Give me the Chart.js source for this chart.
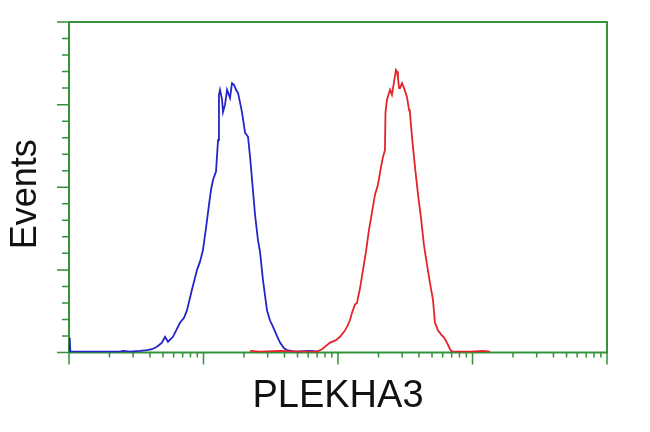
<!DOCTYPE html>
<html>
<head>
<meta charset="utf-8">
<title>PLEKHA3</title>
<script src="https://cdn.jsdelivr.net/npm/chart.js@4.4.1/dist/chart.umd.min.js"></script>
<style>
  html, body { margin: 0; padding: 0; background: #fff; }
  canvas { display: block; }
</style>
</head>
<body>
<canvas id="histChart" width="650" height="432"></canvas>
<script>
// x values are in decades of fluorescence (log10), y in relative events
const xTitle = 'PLEKHA3'
const yTitle = 'Events'

const controlX = [0, 0.005, 0.01, 0.379, 0.401, 0.454, 0.528, 0.58, 0.617, 0.654, 0.691, 0.714, 0.736, 0.773, 0.825,
  0.855, 0.877, 0.914, 0.952, 0.974, 0.996, 1.019, 1.041, 1.056, 1.071, 1.093, 1.108, 1.115, 1.123, 1.138, 1.145,
  1.16, 1.175, 1.197, 1.212, 1.227, 1.242, 1.257, 1.271, 1.286, 1.309, 1.331, 1.346, 1.361, 1.383, 1.405, 1.42,
  1.442, 1.472, 1.494, 1.517, 1.546, 1.569, 1.599, 1.621, 1.68, 1.792, 1.851]
const controlY = [0.01, 0.18, 0.01, 0.01, 0.02, 0.01, 0.02, 0.03, 0.04, 0.07, 0.12, 0.19, 0.13, 0.19, 0.36,
  0.42, 0.51, 0.76, 1.0, 1.1, 1.24, 1.51, 1.79, 1.97, 2.09, 2.19, 2.57, 3.12, 3.18, 3.06, 2.91,
  3.0, 3.18, 3.08, 3.26, 3.24, 3.18, 3.14, 3.03, 2.91, 2.66, 2.61, 2.37, 2.09, 1.67, 1.36, 1.22,
  0.88, 0.51, 0.39, 0.31, 0.2, 0.12, 0.05, 0.03, 0.01, 0.02, 0.01]

const sampleX = [1.346, 1.42, 1.569, 1.717, 1.844, 1.881, 1.941, 1.985, 2.015, 2.045, 2.067, 2.089, 2.104, 2.126,
  2.141, 2.164, 2.186, 2.208, 2.23, 2.253, 2.275, 2.297, 2.32, 2.335, 2.349, 2.353, 2.364, 2.387, 2.401, 2.416,
  2.431, 2.439, 2.446, 2.454, 2.461, 2.476, 2.491, 2.513, 2.528, 2.535, 2.55, 2.572, 2.595, 2.617, 2.639, 2.662,
  2.684, 2.706, 2.721, 2.743, 2.766, 2.788, 2.81, 2.833, 2.848, 2.981, 3.078, 3.13]
const sampleY = [0.02, 0.01, 0.02, 0.01, 0.01, 0.04, 0.12, 0.15, 0.19, 0.25, 0.31, 0.39, 0.48, 0.58,
  0.6, 0.78, 1.0, 1.22, 1.48, 1.7, 1.91, 2.03, 2.25, 2.37, 2.45, 2.9, 3.06, 3.18, 3.12, 3.27,
  3.42, 3.4, 3.32, 3.2, 3.2, 3.26, 3.2, 3.09, 2.94, 2.9, 2.61, 2.25, 1.91, 1.63, 1.3, 1.06,
  0.84, 0.64, 0.36, 0.27, 0.22, 0.18, 0.12, 0.04, 0.01, 0.01, 0.02, 0.01]

const xDecades = [0, 1, 2, 3, 4]
const yMajor = [0, 1, 2, 3, 4]

const frameColor = '#34923a'

function toPoints(xs, ys) {
  return xs.map((x, i) => ({ x: x, y: ys[i] }))
}

const frame = {
  id: 'frame',
  beforeDatasetsDraw(chart) {
    const { ctx, chartArea, scales } = chart
    const { left, right, top, bottom } = chartArea
    ctx.save()
    ctx.strokeStyle = frameColor
    ctx.lineWidth = 2
    ctx.strokeRect(left, top, right - left, bottom - top)

    ctx.lineWidth = 1.5
    ctx.beginPath()
    // x ticks: log minor ticks inside each decade, longer at decades
    xDecades.forEach((d, i) => {
      const px = scales.x.getPixelForValue(d)
      ctx.moveTo(px, bottom)
      ctx.lineTo(px, bottom + 12)
      if (i < xDecades.length - 1) {
        for (let k = 2; k <= 9; k++) {
          const mx = scales.x.getPixelForValue(d + Math.log10(k))
          ctx.moveTo(mx, bottom)
          ctx.lineTo(mx, bottom + 5)
        }
      }
    })
    // y ticks
    yMajor.forEach((v, i) => {
      const py = scales.y.getPixelForValue(v)
      ctx.moveTo(left, py)
      ctx.lineTo(left - 12, py)
      if (i < yMajor.length - 1) {
        for (let k = 1; k < 5; k++) {
          const my = scales.y.getPixelForValue(v + k * 0.2)
          ctx.moveTo(left, my)
          ctx.lineTo(left - 7, my)
        }
      }
    })
    ctx.stroke()

    ctx.fillStyle = '#111'
    ctx.font = '38px "Liberation Sans", Arial, sans-serif'
    ctx.textAlign = 'center'
    ctx.textBaseline = 'middle'
    ctx.fillText(xTitle, (left + right) / 2, 397)
    ctx.translate(26, (top + bottom) / 2 + 7)
    ctx.rotate(-Math.PI / 2)
    ctx.font = '36px "Liberation Sans", Arial, sans-serif'
    ctx.fillText(yTitle, 0, 0)
    ctx.restore()
  },
}

new Chart(document.getElementById('histChart'), {
  type: 'line',
  data: {
    datasets: [
      {
        label: 'Sample',
        data: toPoints(sampleX, sampleY),
        borderColor: '#e3242b',
        borderWidth: 1.8,
        pointRadius: 0,
        tension: 0,
        fill: false,
      },
      {
        label: 'Control',
        data: toPoints(controlX, controlY),
        borderColor: '#2424c8',
        borderWidth: 1.8,
        pointRadius: 0,
        tension: 0,
        fill: false,
      },
    ],
  },
  options: {
    responsive: false,
    animation: false,
    layout: {
      padding: { left: 69, right: 43, top: 22, bottom: 79.5 },
    },
    plugins: {
      legend: { display: false },
      tooltip: { enabled: false },
    },
    scales: {
      x: { type: 'linear', min: 0, max: 4, display: false },
      y: { type: 'linear', min: 0, max: 4, display: false },
    },
  },
  plugins: [frame],
})
</script>
</body>
</html>
